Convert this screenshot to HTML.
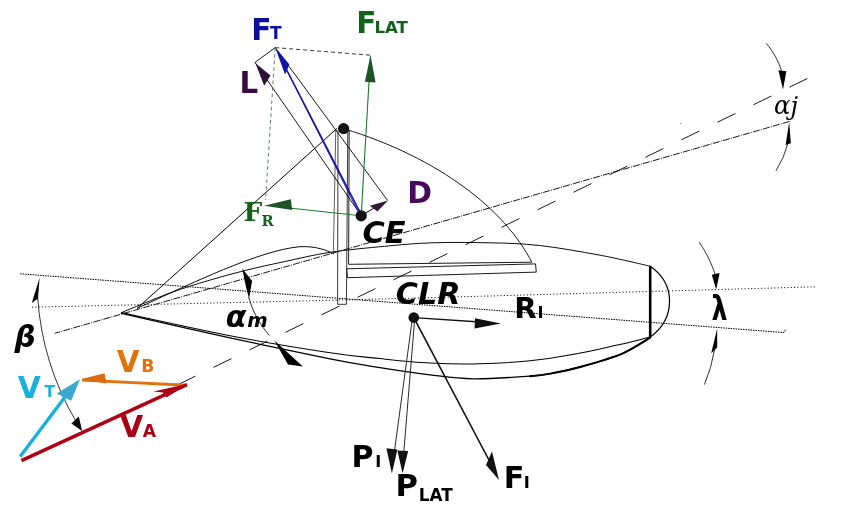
<!DOCTYPE html>
<html lang="en">
<head>
<meta charset="utf-8">
<title>Forces on a sailboat</title>
<style>
html,body{margin:0;padding:0;background:#fff;}
body{width:845px;height:525px;overflow:hidden;}
svg{display:block;will-change:transform;}
.sb{font-family:"DejaVu Sans","Liberation Sans",sans-serif;font-weight:bold;}
.sbi{font-family:"DejaVu Sans","Liberation Sans",sans-serif;font-weight:bold;font-style:italic;}
.rb{font-family:"DejaVu Serif","Liberation Serif",serif;font-weight:bold;}
.ri{font-family:"DejaVu Serif","Liberation Serif",serif;font-style:italic;}
</style>
</head>
<body>
<svg width="845" height="525" viewBox="0 0 845 525">
<rect x="0" y="0" width="845" height="525" fill="#ffffff"/>

<!-- reference lines -->
<g id="reflines" fill="none" stroke="#000">
  <!-- dense dotted (course) -->
  <path d="M20.2,273.8 L784,332.6 L786,329" stroke-width="1" stroke-dasharray="1.5 1"/>
  <!-- sparse dotted (heading) -->
  <path d="M32,307.2 L300,301 L400,298.5 L816,286.8" stroke-width="0.95" stroke-dasharray="1.1 2.2"/>
  <!-- dash-dot jib chord -->
  <path d="M789.6,121.4 L54.8,333.3" stroke-width="0.9" stroke-dasharray="7 1.2 1 1.2"/>
  <!-- long dashes apparent wind -->
  <path d="M807.4,78.5 L176,385.6" stroke-width="0.9" stroke-dasharray="20 20.03"/>
</g>

<!-- hull -->
<g id="hull" fill="none" stroke="#000" stroke-linecap="round" stroke-linejoin="round">
  <!-- upper edge -->
  <path d="M121.4,312.6 C129.5,309.3 155.6,298.3 170.0,293.0 C184.4,287.7 195.3,284.5 207.9,280.7 C220.5,276.9 233.2,273.4 245.8,270.3 C258.4,267.2 269.6,264.8 283.6,261.8 C297.6,258.8 313.1,254.9 330.0,252.3 C346.9,249.7 367.7,247.9 384.7,246.3 C401.7,244.7 414.4,243.4 432.0,242.8 C449.6,242.2 472.1,242.4 490.0,242.8 C507.9,243.2 521.3,243.5 539.5,245.5 C557.7,247.5 580.5,251.6 599.0,255.0 C617.5,258.4 641.7,264.3 650.2,266.2" stroke-width="0.95"/>
  <!-- lower edge: inner -->
  <path d="M121.4,312.6 C139.5,316.5 195.2,329.0 230.0,335.7 C264.8,342.4 305.0,348.9 330.0,352.7 C355.0,356.5 363.3,356.9 380.0,358.6 C396.7,360.3 413.3,362.1 430.0,363.0 C446.7,363.9 463.3,364.2 480.0,363.8 C496.7,363.4 514.1,362.4 530.0,360.8 C545.9,359.2 561.0,356.5 575.2,354.0 C589.4,351.5 602.5,348.4 615.0,345.6 C627.5,342.8 644.3,338.5 650.2,337.1" stroke-width="1.05"/>
  <!-- lower edge: outer -->
  <path d="M121.4,313.4 C139.5,317.5 195.2,330.2 230.0,337.8 C264.8,345.4 305.0,353.8 330.0,358.8 C355.0,363.8 363.3,364.9 380.0,367.6 C396.7,370.3 414.5,372.9 430.0,374.8 C445.5,376.7 456.2,378.6 472.9,378.8 C489.6,379.0 516.1,377.2 530.0,376.2 C543.9,375.2 547.7,374.1 556.0,372.6 C564.3,371.1 569.0,370.1 580.0,367.0 C591.0,363.9 610.0,358.7 621.7,353.8 C633.4,348.9 645.5,340.3 650.2,337.6" stroke-width="1.35"/>
  <path d="M530.0,376.2 C543.9,375.2 547.7,374.1 556.0,372.6 C564.3,371.1 569.0,370.1 580.0,367.0 C591.0,363.9 610.0,358.7 621.7,353.8 C633.4,348.9 645.5,340.3 650.2,337.6" stroke-width="2"/>
  <!-- transom -->
  <path d="M650.2,266.2 L650.2,337.1" stroke-width="2.6" stroke-linecap="butt"/>
  <path d="M650.2,266.2 C676,284 676,318 650.2,337.1" stroke-width="1.2"/>
</g>

<!-- rig -->
<g id="rig" fill="none" stroke="#000" stroke-linejoin="miter">
  <!-- jib luff -->
  <path d="M337,128.4 L137.5,308" stroke-width="1"/>
  <!-- jib camber -->
  <path d="M137,308.4 C190,284 260,250 300,246.7 C316,246 326,250 334,254" stroke-width="0.95"/>
  <!-- mainsail leech -->
  <path d="M343.6,128.6 C440,158 505.2,210.2 531.8,262.2 L348.6,264.3" stroke-width="0.9"/>
  <!-- boom -->
  <path d="M346.7,268.8 L535.5,263.9 L536.3,272.1 L347.6,277.7 Z" stroke-width="0.9"/>
  <!-- mast -->
  <path d="M335.8,129 L333.4,253" stroke-width="0.8" stroke="#333"/>
  <path d="M338,130 L337.6,304.3 L346.4,304.3 L347.8,131" stroke-width="0.9" stroke="#222"/>
  <path d="M349.2,131 L348.6,264.3" stroke-width="1" stroke="#222"/>
</g>

<!-- aerodynamic forces -->
<g id="aero" fill="none">
  <!-- parallelogram thin lines -->
  <path d="M361.2,215.6 L255,62.4 L275.2,47.6 L387.6,200.5" stroke="#000" stroke-width="0.9"/>
  <!-- dashed construction -->
  <path d="M275.2,47.6 L370.5,55.2" stroke="#222" stroke-width="0.9" stroke-dasharray="4 3"/>
  <path d="M275.2,47.6 L265.6,200" stroke="#3f6b47" stroke-width="0.85" stroke-dasharray="3.6 3"/>
  <!-- FLAT, FR green -->
  <path d="M361.2,215.6 L370.5,56" stroke="#1f7a2e" stroke-width="1.1"/>
  <path d="M361.2,215.8 L291,208.2" stroke="#1f7a2e" stroke-width="1"/>
  <polygon points="370.5,55.2 375.6,82.4 364.9,81.8" fill="#1c5426" stroke="none"/>
  <polygon points="264,205.7 290.8,199.3 292.2,210" fill="#1c5426" stroke="none"/>
  <!-- FT blue -->
  <path d="M361.8,215.6 L279,55" stroke="#1212a4" stroke-width="1.5"/>
  <path d="M359.8,214.8 L279,55" stroke="#1212a4" stroke-width="0.9"/>
  <polygon points="275.2,47.6 289.2,64.2 287.4,69.6 285,74.4" fill="#1212a4" stroke="none"/>
  <!-- L, D arrowheads -->
  <polygon points="255.3,62.9 270.5,75.5 264.2,85.7" fill="#2c1236" stroke="none"/>
  <path d="M361.2,215.6 L380,204.6" stroke="#000" stroke-width="1"/>
  <polygon points="388,200.4 377.4,211.4 369.8,205.8" fill="#35173f" stroke="none"/>
</g>
<circle cx="343.6" cy="128.6" r="5.6" fill="#111"/>
<circle cx="361.2" cy="215.8" r="5.6" fill="#111"/>

<!-- hydrodynamic forces -->
<g id="hydro" fill="#111" stroke="#111">
  <path d="M413.8,317.6 L480,322" stroke-width="1.3" fill="none"/>
  <polygon points="501,323.6 474.6,328.4 475,318.2" stroke="none"/>
  <path d="M412.2,320 L394.6,450" stroke-width="0.9" fill="none"/>
  <polygon points="391.9,473.4 386.4,448.2 397.4,449.4" stroke="none"/>
  <path d="M414.6,320 L403.8,452" stroke-width="0.9" fill="none"/>
  <polygon points="402.6,473.4 397.4,450.4 408.2,451" stroke="none"/>
  <path d="M413.8,317.6 L490,462" stroke-width="1.6" fill="none"/>
  <polygon points="499,480 486,465 492,451.6" stroke="none"/>
  <circle cx="413.8" cy="317.6" r="5.3" stroke="none"/>
</g>

<!-- angle arcs -->
<g id="arcs" fill="none" stroke="#000" stroke-width="0.8">
  <!-- beta -->
  <path d="M37.6,297 A282.7,282.7 0 0 0 76.4,422"/>
  <polygon points="39.6,277.8 38,298.4 31.8,303" fill="#000" stroke="none"/>
  <polygon points="82.1,431 71.4,423.6 78.8,416.6" fill="#000" stroke="none"/>
  <!-- alpha m -->
  <path d="M248.6,297 A97.2,97.2 0 0 0 269.4,335.6"/>
  <polygon points="242.2,268.6 252.1,281 249,298.4 246,287" fill="#000" stroke="none"/>
  <polygon points="274.4,340.4 302.9,366.5 288,364.5" fill="#000" stroke="none"/>
  <!-- alpha j -->
  <path d="M766.3,43.3 A82.3,82.3 0 0 1 782,72"/>
  <polygon points="783,89.6 778.4,70.2 786.4,71.2" fill="#000" stroke="none"/>
  <path d="M788,143 A95.5,95.5 0 0 1 776,170.7"/>
  <polygon points="789.2,122 790.8,143.2 785.6,145" fill="#000" stroke="none"/>
  <!-- lambda -->
  <path d="M699.3,242.3 A128.3,128.3 0 0 1 715.4,275"/>
  <polygon points="716.2,289.6 711.8,274.8 719.6,273" fill="#000" stroke="none"/>
  <path d="M714.4,350 A140.7,140.7 0 0 1 704.4,384.6"/>
  <polygon points="717.2,328.6 717.2,347.6 711.2,353.2" fill="#000" stroke="none"/>
</g>

<!-- wind triangle -->
<g id="wind" fill="none">
  <path d="M186.9,385.2 L82,380.1" stroke="#e0720e" stroke-width="2.9"/>
  <polygon points="81.4,378.9 104.6,373.3 106.4,383.6" fill="#dc6c10"/>
  <path d="M21.4,460.6 L186.9,384.6" stroke="#b00016" stroke-width="3.4"/>
  <polygon points="188,383.7 153.4,391.4 163,392.4 166.6,397.4" fill="#b00016"/>
  <path d="M20.2,456.4 L68,393" stroke="#19b1dc" stroke-width="3.4"/>
  <polygon points="80,379.3 56.7,393.6 71.2,400.8" fill="#3aa9d0"/>
</g>

<!-- labels -->
<g id="labels">
  <text class="sb" x="251.2" y="39.7" font-size="29.6" fill="#0d0d9e">F<tspan font-size="17" dx="-1.4" dy="-1">T</tspan></text>
  <text class="sb" x="356.2" y="32.6" font-size="29.4" fill="#12621a">F<tspan font-size="16.6" dx="-1.8">LAT</tspan></text>
  <text class="sb" x="239.6" y="92.6" font-size="29.4" fill="#3a0a44">L</text>
  <text class="sb" x="407.2" y="203" font-size="29.8" fill="#47095a">D</text>
  <text class="rb" x="243.4" y="221" font-size="26.4" fill="#12621a">F<tspan font-size="14.7" dy="4.6" dx="-0.6">R</tspan></text>
  <text class="sbi" x="362.4" y="243" font-size="30.4" fill="#000">CE</text>
  <text class="sbi" x="395.8" y="304.2" font-size="30.2" fill="#000">CLR</text>
  <text class="sb" x="514.2" y="318.2" font-size="29.2" fill="#000">R<tspan font-size="16" dx="0.8">I</tspan></text>
  <text class="sb" x="351.6" y="466.8" font-size="30" fill="#000">P<tspan font-size="16.2" dx="1.6">I</tspan></text>
  <text class="sb" x="395.4" y="495.9" font-size="30.6" fill="#000">P<tspan font-size="16.8" dy="4.9" dx="1">LAT</tspan></text>
  <text class="sb" x="503.8" y="487.7" font-size="30.2" fill="#000">F<tspan font-size="16.4" dx="-0.6">I</tspan></text>
  <text class="sbi" x="225.8" y="327.3" font-size="30" fill="#000">α<tspan font-size="19.6" dx="0.7">m</tspan></text>
  <text class="sbi" x="14.6" y="346.8" font-size="29.6" fill="#000">β</text>
  <text class="sb" x="17.8" y="397.9" font-size="29.8" fill="#19b1dc">V<tspan font-size="15.4" dx="3.6" dy="-1.3">T</tspan></text>
  <text class="sb" x="116.8" y="372.3" font-size="29.4" fill="#e0720e">V<tspan font-size="17.2" dx="1.6">B</tspan></text>
  <text class="sb" x="120" y="437.2" font-size="30" fill="#a80014">V<tspan font-size="17.2" dx="-0.4">A</tspan></text>
  <text class="ri" transform="translate(773.9,113.8) scale(0.94,1)" x="0" y="0" font-size="26" fill="#000">α<tspan dy="1.2">j</tspan></text>
  <text class="sb" transform="translate(711.4,319.7) scale(0.765,1.04)" x="0" y="0" font-size="33" fill="#000">λ</text>
</g>
<circle cx="681" cy="123.6" r="0.6" fill="#555"/>
</svg>
</body>
</html>
